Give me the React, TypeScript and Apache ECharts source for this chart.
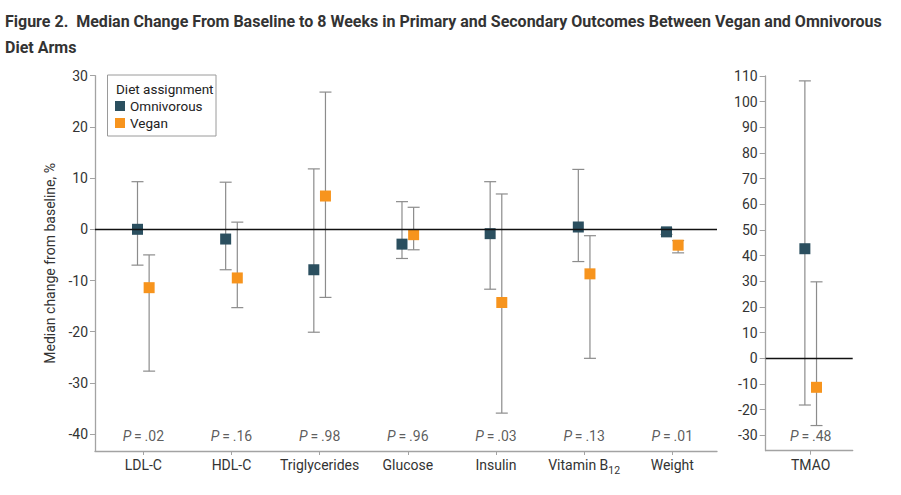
import React, { useEffect, useRef } from "react";
import * as echarts from "echarts";

const categories = ["LDL-C", "HDL-C", "Triglycerides", "Glucose", "Insulin", "Vitamin B12", "Weight"];
const omniMedian = [0, -1.9, -7.9, -2.9, -0.85, 0.45, -0.5];
const omniLow = [-7.0, -7.9, -20.1, -5.7, -11.7, -6.3, -1.0];
const omniHigh = [9.3, 9.2, 11.8, 5.4, 9.3, 11.7, 0.2];
const veganMedian = [-11.4, -9.5, 6.5, -1.05, -14.3, -8.7, -3.1];
const veganLow = [-27.7, -15.3, -13.3, -4.0, -35.9, -25.2, -4.6];
const veganHigh = [-5.0, 1.4, 26.8, 4.3, 6.9, -1.25, -2.2];
const pValues = [".02", ".16", ".98", ".96", ".03", ".13", ".01"];

const tmaoCategories = ["TMAO"];
const tmaoOmniMedian = [42.7];
const tmaoOmniLow = [-18.2];
const tmaoOmniHigh = [108.1];
const tmaoVeganMedian = [-11.3];
const tmaoVeganLow = [-26.2];
const tmaoVeganHigh = [29.8];
const tmaoPValues = [".48"];

const leftTicks = [-40, -30, -20, -10, 0, 10, 20, 30];
const rightTicks = [-30, -20, -10, 0, 10, 20, 30, 40, 50, 60, 70, 80, 90, 100, 110];

const OMNI = "#2b4f5f";
const VEGAN = "#f7941d";
const BAR = "#8c8c8c";
const AXIS = "#a3a3a3";
const TEXT = "#333333";
const FONT = "Roboto, 'Noto Sans', sans-serif";
const OFF = 0.066;

function errorBarSeries(name: string, xAxisIndex: number, data: number[][], withZero: boolean) {
  const s: any = {
    type: "custom",
    name,
    xAxisIndex,
    yAxisIndex: xAxisIndex,
    z: 2,
    silent: true,
    encode: { x: 0, y: [1, 2] },
    itemStyle: { color: BAR },
    data,
    renderItem: (params: any, api: any) => {
      const x = api.value(0);
      const lo = api.coord([x, api.value(1)]);
      const hi = api.coord([x, api.value(2)]);
      const w = 6;
      const style = { stroke: BAR, lineWidth: 1.2 };
      return {
        type: "group",
        children: [
          { type: "line", shape: { x1: lo[0], y1: lo[1], x2: hi[0], y2: hi[1] }, style },
          { type: "line", shape: { x1: lo[0] - w, y1: lo[1], x2: lo[0] + w, y2: lo[1] }, style },
          { type: "line", shape: { x1: hi[0] - w, y1: hi[1], x2: hi[0] + w, y2: hi[1] }, style },
        ],
      };
    },
  };
  if (withZero) {
    s.markLine = {
      silent: true,
      symbol: "none",
      label: { show: false },
      lineStyle: { color: "#111", width: 1.3, type: "solid" },
      data: [{ yAxis: 0 }],
    };
  }
  return s;
}

function markerSeries(name: string, xAxisIndex: number, data: number[][], color: string) {
  return {
    type: "scatter",
    name,
    xAxisIndex,
    yAxisIndex: xAxisIndex,
    z: 4,
    symbol: "rect",
    symbolSize: 11,
    itemStyle: { color, opacity: 1 },
    data,
  };
}

function pSeries(xAxisIndex: number, data: any[]) {
  return {
    type: "scatter",
    name: "p" + xAxisIndex,
    xAxisIndex,
    yAxisIndex: xAxisIndex,
    symbolSize: 0,
    silent: true,
    z: 5,
    label: {
      show: true,
      position: "inside",
      formatter: (p: any) => "{i|P}{n|\u2009=\u2009" + p.data[2] + "}",
      rich: {
        i: { fontStyle: "italic", fontSize: 14, color: TEXT, fontFamily: FONT },
        n: { fontSize: 14, color: TEXT, fontFamily: FONT },
      },
    },
    data,
  };
}

export default function App() {
  const ref = useRef<HTMLDivElement>(null);
  useEffect(() => {
    document.body.style.margin = "0";
    const chart = echarts.init(ref.current!, undefined, { renderer: "svg" });

    const idx = categories.map((_, i) => i);
    const omniBars = idx.map((i) => [i - OFF, omniLow[i], omniHigh[i]]);
    const veganBars = idx.map((i) => [i + OFF, veganLow[i], veganHigh[i]]);
    const omniPts = idx.map((i) => [i - OFF, omniMedian[i]]);
    const veganPts = idx.map((i) => [i + OFF, veganMedian[i]]);
    const pData = idx.map((i) => [i, -40.3, pValues[i]]);

    const tIdx = tmaoCategories.map((_, i) => i);
    const tOmniBars = tIdx.map((i) => [i - OFF, tmaoOmniLow[i], tmaoOmniHigh[i]]);
    const tVeganBars = tIdx.map((i) => [i + OFF, tmaoVeganLow[i], tmaoVeganHigh[i]]);
    const tOmniPts = tIdx.map((i) => [i - OFF, tmaoOmniMedian[i]]);
    const tVeganPts = tIdx.map((i) => [i + OFF, tmaoVeganMedian[i]]);
    const tPData = tIdx.map((i) => [i, -30.3, tmaoPValues[i]]);

    const catLabel = (names: string[]) => (v: number) => {
      const n = names[Math.round(v)] || "";
      if (n === "Vitamin B12") return "{b|Vitamin B}{s|12}";
      return "{b|" + n + "}";
    };
    const catRich = {
      b: { fontSize: 14, color: TEXT, fontFamily: FONT, lineHeight: 18, verticalAlign: "top" },
      s: { fontSize: 10.5, color: TEXT, fontFamily: FONT, lineHeight: 18, verticalAlign: "top", padding: [7, 0, 0, 0] },
    };

    const yLabel = { color: TEXT, fontSize: 14, fontFamily: FONT };

    chart.setOption({
      animation: false,
      textStyle: { fontFamily: FONT },
      title: {
        text: "Figure 2.  Median Change From Baseline to 8 Weeks in Primary and Secondary Outcomes Between Vegan and Omnivorous\nDiet Arms",
        left: 5,
        top: 8,
        padding: 0,
        textStyle: { fontSize: 16, fontWeight: "bold", color: "#333", lineHeight: 26, fontFamily: FONT },
      },
      legend: {
        data: [
          { name: "Omnivorous", itemStyle: { color: OMNI } },
          { name: "Vegan", itemStyle: { color: VEGAN } },
        ],
        orient: "vertical",
        left: 115,
        top: 98,
        padding: 0,
        itemGap: 1,
        itemWidth: 10,
        itemHeight: 10,
        icon: "rect",
        z: 10,
        selectedMode: false,
        textStyle: { fontSize: 13.5, color: "#222", lineHeight: 16, fontFamily: FONT },
      },
      graphic: [
        {
          type: "rect",
          shape: { x: 107.5, y: 75, width: 108.5, height: 61 },
          style: { fill: "#fff", stroke: "#9a9a9a", lineWidth: 1 },
          z: 1,
        },
        {
          type: "text",
          x: 116,
          y: 89,
          style: { text: "Diet assignment", fontSize: 13.5, fill: "#222", fontFamily: FONT, verticalAlign: "middle" },
          z: 2,
        },
      ],
      grid: [
        { left: 95, top: 75.7, width: 622, height: 375.3, containLabel: false },
        { left: 765.7, top: 76, width: 87, height: 374.7, containLabel: false },
      ],
      xAxis: [
        {
          type: "value",
          gridIndex: 0,
          min: -0.548,
          max: 6.507,
          splitLine: { show: false },
          axisLine: { onZero: false, lineStyle: { color: AXIS, width: 1.3 } },
          axisTick: { show: true, length: 4, lineStyle: { color: AXIS }, customValues: idx },
          axisLabel: {
            customValues: idx,
            margin: 7,
            formatter: catLabel(categories),
            rich: catRich,
          },
        },
        {
          type: "value",
          gridIndex: 1,
          min: -0.51,
          max: 0.476,
          splitLine: { show: false },
          axisLine: { onZero: false, lineStyle: { color: AXIS, width: 1.3 } },
          axisTick: { show: true, length: 4, lineStyle: { color: AXIS }, customValues: tIdx },
          axisLabel: {
            customValues: tIdx,
            margin: 7,
            formatter: catLabel(tmaoCategories),
            rich: catRich,
          },
        },
      ],
      yAxis: [
        {
          type: "value",
          gridIndex: 0,
          min: -43.3,
          max: 30,
          name: "Median change from baseline, %",
          nameLocation: "middle",
          nameGap: 31,
          nameTextStyle: { fontSize: 14, color: TEXT, fontFamily: FONT },
          splitLine: { show: false },
          axisLine: { show: true, onZero: false, lineStyle: { color: AXIS, width: 1.3 } },
          axisTick: { show: true, length: 5, lineStyle: { color: AXIS }, customValues: leftTicks },
          axisLabel: { ...yLabel, margin: 7, customValues: leftTicks },
        },
        {
          type: "value",
          gridIndex: 1,
          min: -36,
          max: 110,
          splitLine: { show: false },
          axisLine: { show: true, onZero: false, lineStyle: { color: AXIS, width: 1.3 } },
          axisTick: { show: true, length: 6, lineStyle: { color: AXIS }, customValues: rightTicks },
          axisLabel: { ...yLabel, margin: 8, customValues: rightTicks },
        },
      ],
      series: [
        errorBarSeries("omniBars", 0, omniBars, true),
        errorBarSeries("veganBars", 0, veganBars, false),
        markerSeries("Omnivorous", 0, omniPts, OMNI),
        markerSeries("Vegan", 0, veganPts, VEGAN),
        pSeries(0, pData),
        errorBarSeries("omniBarsT", 1, tOmniBars, true),
        errorBarSeries("veganBarsT", 1, tVeganBars, false),
        markerSeries("Omnivorous", 1, tOmniPts, OMNI),
        markerSeries("Vegan", 1, tVeganPts, VEGAN),
        pSeries(1, tPData),
      ],
    });
    return () => chart.dispose();
  }, []);
  return <div ref={ref} style={{ width: 901, height: 495 }} />;
}
